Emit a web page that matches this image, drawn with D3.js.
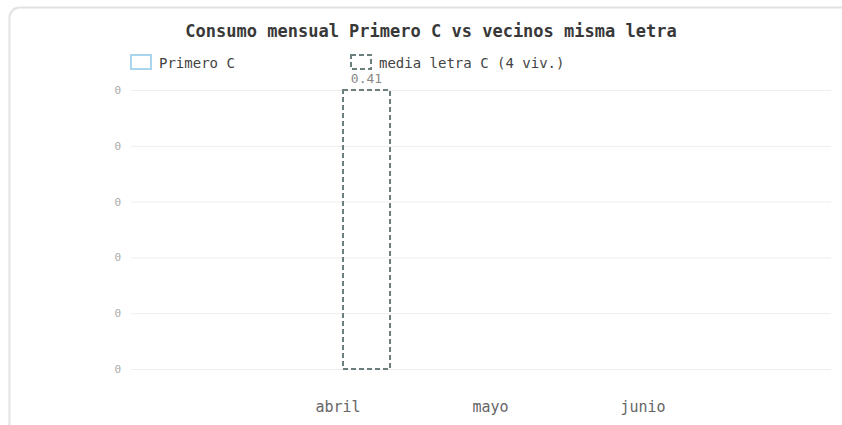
<!DOCTYPE html>
<html><head><meta charset="utf-8">
<script src="https://cdn.jsdelivr.net/npm/d3@7"></script>
<style>
html,body{margin:0;padding:0;background:#fff;}
svg{display:block;font-family:"DejaVu Sans Mono",monospace;}
</style></head>
<body>
<svg id="chart" width="842" height="425"></svg>
<script>
const title = "Consumo mensual Primero C vs vecinos misma letra";
const months = ["abril", "mayo", "junio"];
const seriesNames = ["Primero C", "media letra C (4 viv.)"];
const primeroC = [0, null, null];
const mediaLetraC = [0.41, null, null];
const valueLabels = ["0.41", null, null];
const yTickLabels = ["0", "0", "0", "0", "0", "0"];

const FONT = "DejaVu Sans Mono, monospace";
const svg = d3.select("#chart");

// card
svg.append("rect").attr("x", 9.5).attr("y", 7.5).attr("width", 860).attr("height", 440)
  .attr("rx", 10).attr("fill", "#fff").attr("stroke", "#e2e2e2").attr("stroke-width", 2);

// title
svg.append("text").attr("x", 431).attr("y", 37).attr("text-anchor", "middle")
  .attr("font-size", 17).attr("font-weight", "bold").attr("fill", "#383838").text(title);

const plot = {left: 131, right: 831, top: 90, bottom: 369};
const yMax = d3.max(mediaLetraC.concat(primeroC).filter(v => v != null));
const y = d3.scaleLinear().domain([0, yMax]).range([plot.bottom, plot.top]);
const x = d3.scaleBand().domain(months).range([261.75, 719.25]).padding(0);
const inner = d3.scaleBand().domain(seriesNames).range([0, x.bandwidth()])
  .paddingInner(0.1754).paddingOuter(0.4254);

// grid + y labels
const yTicks = yTickLabels.map((_, i) => yMax * i / (yTickLabels.length - 1));
const yAxis = d3.axisLeft(y).tickValues(yTicks).tickFormat((d, i) => yTickLabels[i])
  .tickSize(-(plot.right - plot.left)).tickPadding(10);
const ga = svg.append("g").attr("transform", `translate(${plot.left},0)`).call(yAxis);
ga.select(".domain").remove();
ga.selectAll(".tick line").attr("stroke", "#eeeeee").attr("stroke-width", 1);
ga.selectAll(".tick text").attr("fill", "#aaaaaa").attr("font-size", 11)
  .attr("font-family", FONT);

// x axis labels
const xAxis = d3.axisBottom(x).tickSize(0).tickPadding(0);
const gx = svg.append("g").attr("transform", `translate(0,${plot.bottom + 32})`).call(xAxis);
gx.select(".domain").remove();
gx.selectAll(".tick text").attr("fill", "#666").attr("font-size", 15)
  .attr("font-family", FONT);

// bars
const colors = {stroke0: "#a9d5ef", stroke1: "#6b7f7e"};
months.forEach((m, i) => {
  const v0 = primeroC[i];
  if (v0 != null && v0 > 0) {
    svg.append("rect").attr("x", x(m) + inner(seriesNames[0])).attr("y", y(v0))
      .attr("width", inner.bandwidth()).attr("height", y(0) - y(v0))
      .attr("fill", "none").attr("stroke", colors.stroke0).attr("stroke-width", 2);
  }
  const v1 = mediaLetraC[i];
  if (v1 != null) {
    svg.append("rect").attr("x", x(m) + inner(seriesNames[1])).attr("y", y(v1))
      .attr("width", inner.bandwidth()).attr("height", y(0) - y(v1))
      .attr("fill", "none").attr("stroke", colors.stroke1).attr("stroke-width", 2)
      .attr("stroke-dasharray", "5,3");
    if (valueLabels[i]) {
      svg.append("text").attr("x", x(m) + inner(seriesNames[1]) + inner.bandwidth() / 2)
        .attr("y", y(v1) - 7).attr("text-anchor", "middle").attr("font-size", 13)
        .attr("fill", "#888").text(valueLabels[i]);
    }
  }
});

// legend
const legendX = [130, 350];
seriesNames.forEach((s, i) => {
  const g = svg.append("g").attr("transform", `translate(${legendX[i]},55)`);
  g.append("rect").attr("x", 1).attr("y", 0).attr("width", 20).attr("height", 14)
    .attr("fill", "#fff").attr("stroke", i === 0 ? colors.stroke0 : colors.stroke1)
    .attr("stroke-width", 2).attr("stroke-dasharray", i === 0 ? null : "5,3");
  g.append("text").attr("x", 29).attr("y", 12.5).attr("font-size", 14)
    .attr("fill", "#444").text(s);
});
</script>
</body></html>
